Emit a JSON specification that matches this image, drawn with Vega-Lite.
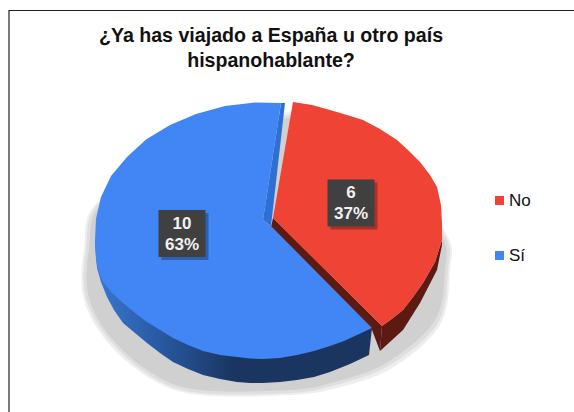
{
  "$schema": "https://vega.github.io/schema/vega-lite/v6.json",
  "width": 574,
  "height": 412,
  "autosize": "none",
  "padding": 0,
  "background": "white",
  "title": {
    "text": ["¿Ya has viajado a España u otro país", "hispanohablante?"],
    "font": "Liberation Sans",
    "fontSize": 19.6,
    "fontWeight": "bold",
    "color": "#111111",
    "lineHeight": 25,
    "anchor": "middle",
    "frame": "group",
    "dx": -16,
    "dy": 76
  },
  "config": {"view": {"stroke": null}},
  "datasets": {
    "shadowOuter": [
      {"i":0,"u":18,"v":118},{"i":1,"u":70,"v":95},{"i":2,"u":130,"v":60},{"i":3,"u":177,"v":-5},{"i":4,"u":180,"v":-40},{"i":5,"u":170,"v":-95},{"i":6,"u":122,"v":-138},{"i":7,"u":67,"v":-158},{"i":8,"u":20,"v":-165},{"i":9,"u":-70,"v":-165},{"i":10,"u":-117,"v":-150},{"i":11,"u":-160,"v":-115},{"i":12,"u":-186,"v":-70},{"i":13,"u":-186,"v":-20},{"i":14,"u":-170,"v":30},{"i":15,"u":-70,"v":80}
    ],
    "shadowMiddle": [
      {"i":0,"u":18,"v":115},{"i":1,"u":70,"v":92},{"i":2,"u":130,"v":57},{"i":3,"u":175,"v":-5},{"i":4,"u":178,"v":-40},{"i":5,"u":168,"v":-93},{"i":6,"u":120,"v":-135},{"i":7,"u":66,"v":-155},{"i":8,"u":20,"v":-163},{"i":9,"u":-70,"v":-163},{"i":10,"u":-116,"v":-148},{"i":11,"u":-158,"v":-113},{"i":12,"u":-184,"v":-69},{"i":13,"u":-184,"v":-20},{"i":14,"u":-168,"v":30},{"i":15,"u":-70,"v":80}
    ],
    "shadowInner": [
      {"i":0,"u":18,"v":112},{"i":1,"u":70,"v":90},{"i":2,"u":130,"v":55},{"i":3,"u":172,"v":-5},{"i":4,"u":175,"v":-40},{"i":5,"u":165,"v":-90},{"i":6,"u":118,"v":-132},{"i":7,"u":65,"v":-152},{"i":8,"u":20,"v":-160},{"i":9,"u":-70,"v":-160},{"i":10,"u":-115,"v":-145},{"i":11,"u":-157,"v":-110},{"i":12,"u":-181,"v":-68},{"i":13,"u":-181,"v":-20},{"i":14,"u":-165,"v":30},{"i":15,"u":-70,"v":80}
    ],
    "blueWall": [
      {"i":0,"u":-175,"v":-10},{"i":1,"u":0,"v":-60},{"i":2,"u":102,"v":-98},{"i":3,"u":99,"v":-125},{"i":4,"u":80,"v":-134},{"i":5,"u":60,"v":-142},{"i":6,"u":44,"v":-147},{"i":7,"u":27,"v":-150},{"i":8,"u":10,"v":-152},{"i":9,"u":-7,"v":-153},{"i":10,"u":-20,"v":-153},{"i":11,"u":-33,"v":-152},{"i":12,"u":-50,"v":-149},{"i":13,"u":-67,"v":-145},{"i":14,"u":-82,"v":-139},{"i":15,"u":-97,"v":-132},{"i":16,"u":-110,"v":-123},{"i":17,"u":-123,"v":-113},{"i":18,"u":-135,"v":-103},{"i":19,"u":-147,"v":-93},{"i":20,"u":-156,"v":-80},{"i":21,"u":-163,"v":-67},{"i":22,"u":-169,"v":-52},{"i":23,"u":-173,"v":-38},{"i":24,"u":-175,"v":-15}
    ],
    "redWalls": [
      {"part":"outer","i":0,"u":172,"v":-5},{"part":"outer","i":1,"u":172,"v":-10},{"part":"outer","i":2,"u":165,"v":-32},{"part":"outer","i":3,"u":153,"v":-53},{"part":"outer","i":4,"u":143,"v":-67},{"part":"outer","i":5,"u":133,"v":-80},{"part":"outer","i":6,"u":123,"v":-88},{"part":"outer","i":7,"u":112,"v":-96},{"part":"outer","i":8,"u":110,"v":-121},{"part":"outer","i":9,"u":133,"v":-100},{"part":"outer","i":10,"u":150,"v":-73},{"part":"outer","i":11,"u":167,"v":-40},{"part":"outer","i":12,"u":172,"v":-15},
      {"part":"inner","i":0,"u":3,"v":12},{"part":"inner","i":1,"u":112,"v":-96},{"part":"inner","i":2,"u":110,"v":-121},{"part":"inner","i":3,"u":102,"v":-100},{"part":"inner","i":4,"u":1,"v":3}
    ],
    "blueCut": [
      {"i":0,"u":11,"v":127},{"i":1,"u":15,"v":127},{"i":2,"u":1,"v":4},{"i":3,"u":-7,"v":10}
    ],
    "faces": [
      {"answer":"Sí","i":0,"u":11,"v":127},{"answer":"Sí","i":1,"u":-15,"v":127.5},{"answer":"Sí","i":2,"u":-45,"v":124},{"answer":"Sí","i":3,"u":-74,"v":116},{"answer":"Sí","i":4,"u":-100,"v":105},{"answer":"Sí","i":5,"u":-124,"v":90.5},{"answer":"Sí","i":6,"u":-143,"v":73},{"answer":"Sí","i":7,"u":-159,"v":54},{"answer":"Sí","i":8,"u":-169,"v":33},{"answer":"Sí","i":9,"u":-174,"v":11},{"answer":"Sí","i":10,"u":-175,"v":-10},{"answer":"Sí","i":11,"u":-174,"v":-30},{"answer":"Sí","i":12,"u":-171,"v":-42},{"answer":"Sí","i":13,"u":-167,"v":-52},{"answer":"Sí","i":14,"u":-158,"v":-63},{"answer":"Sí","i":15,"u":-147,"v":-73},{"answer":"Sí","i":16,"u":-135,"v":-83},{"answer":"Sí","i":17,"u":-123,"v":-92},{"answer":"Sí","i":18,"u":-110,"v":-100},{"answer":"Sí","i":19,"u":-97,"v":-108},{"answer":"Sí","i":20,"u":-82,"v":-115},{"answer":"Sí","i":21,"u":-67,"v":-121},{"answer":"Sí","i":22,"u":-50,"v":-125},{"answer":"Sí","i":23,"u":-33,"v":-127},{"answer":"Sí","i":24,"u":-20,"v":-128.5},{"answer":"Sí","i":25,"u":-7,"v":-129},{"answer":"Sí","i":26,"u":10,"v":-128},{"answer":"Sí","i":27,"u":27,"v":-125},{"answer":"Sí","i":28,"u":44,"v":-121},{"answer":"Sí","i":29,"u":60,"v":-116},{"answer":"Sí","i":30,"u":74,"v":-111},{"answer":"Sí","i":31,"u":87,"v":-105},{"answer":"Sí","i":32,"u":102,"v":-98},{"answer":"Sí","i":33,"u":1,"v":4},{"answer":"Sí","i":34,"u":-7,"v":10},
      {"answer":"No","i":0,"u":23,"v":128},{"answer":"No","i":1,"u":42,"v":125},{"answer":"No","i":2,"u":60,"v":120},{"answer":"No","i":3,"u":77,"v":115},{"answer":"No","i":4,"u":93,"v":110},{"answer":"No","i":5,"u":110,"v":101},{"answer":"No","i":6,"u":127,"v":90},{"answer":"No","i":7,"u":139,"v":79},{"answer":"No","i":8,"u":150,"v":68},{"answer":"No","i":9,"u":160,"v":55},{"answer":"No","i":10,"u":167,"v":43},{"answer":"No","i":11,"u":171,"v":25},{"answer":"No","i":12,"u":172,"v":7},{"answer":"No","i":13,"u":172,"v":-10},{"answer":"No","i":14,"u":165,"v":-32},{"answer":"No","i":15,"u":153,"v":-53},{"answer":"No","i":16,"u":143,"v":-67},{"answer":"No","i":17,"u":133,"v":-80},{"answer":"No","i":18,"u":123,"v":-88},{"answer":"No","i":19,"u":112,"v":-96},{"answer":"No","i":20,"u":3,"v":12}
    ],
    "labels": [
      {"answer":"No","count":6,"share":"37%","lines":["6","37%"],"u":81,"v":27},
      {"answer":"Sí","count":10,"share":"63%","lines":["10","63%"],"u":-88,"v":-3.5}
    ],
    "frame": [
      {"i":0,"u":-261,"v":-182},{"i":1,"u":-261,"v":219.5},{"i":2,"u":304,"v":219.5}
    ]
  },
  "encoding": {
    "x": {"field":"u","type":"quantitative","axis":null,"scale":{"domain":[-270,304],"nice":false,"zero":false}},
    "y": {"field":"v","type":"quantitative","axis":null,"scale":{"domain":[-182,230],"nice":false,"zero":false}}
  },
  "layer": [
    {
      "data": {"name":"shadowOuter"},
      "mark": {"type":"line","filled":true,"fill":"#eeeeee","stroke":null,"interpolate":"cardinal-closed"},
      "encoding": {"order":{"field":"i"}}
    },
    {
      "data": {"name":"shadowMiddle"},
      "mark": {"type":"line","filled":true,"fill":"#dfdfdf","stroke":null,"interpolate":"cardinal-closed"},
      "encoding": {"order":{"field":"i"}}
    },
    {
      "data": {"name":"shadowInner"},
      "mark": {"type":"line","filled":true,"fill":"#d0d0d0","stroke":null,"interpolate":"cardinal-closed"},
      "encoding": {"order":{"field":"i"}}
    },
    {
      "data": {"name":"blueWall"},
      "mark": {
        "type":"line","filled":true,"stroke":null,
        "fill": {"gradient":"linear","x1":0,"x2":1,"y1":0,"y2":0,
          "stops":[{"offset":0,"color":"#3a78d0"},{"offset":0.25,"color":"#27579f"},{"offset":0.5,"color":"#1a3560"},{"offset":1,"color":"#1a3560"}]}
      },
      "encoding": {"order":{"field":"i"}}
    },
    {
      "data": {"name":"redWalls"},
      "mark": {"type":"line","filled":true,"fill":"#5c1a12","stroke":null},
      "encoding": {"order":{"field":"i"},"detail":{"field":"part"}}
    },
    {
      "data": {"name":"blueCut"},
      "mark": {"type":"line","filled":true,"fill":"#2e6fd6","stroke":null},
      "encoding": {"order":{"field":"i"}}
    },
    {
      "data": {"name":"faces"},
      "mark": {"type":"line","filled":true,"stroke":null},
      "encoding": {
        "order":{"field":"i"},
        "fill": {
          "field":"answer","type":"nominal",
          "scale":{"domain":["No","Sí"],"range":["#ee4335","#4285f4"]},
          "legend":{
            "title":null,"orient":"none","legendX":491,"legendY":192,
            "symbolType":"square","symbolSize":81,"symbolStrokeWidth":0,
            "labelFont":"Liberation Sans","labelFontSize":17,"labelColor":"#111111",
            "labelOffset":1,"rowPadding":37,"padding":0
          }
        }
      }
    },
    {
      "data": {"name":"labels"},
      "mark": {"type":"point","shape":"square","size":2209,"filled":true,"color":"#000000","opacity":0.28,"xOffset":3,"yOffset":3}
    },
    {
      "data": {"name":"labels"},
      "mark": {"type":"point","shape":"square","size":2209,"filled":true,"color":"#404040","opacity":1}
    },
    {
      "data": {"name":"labels"},
      "mark": {"type":"text","font":"Liberation Sans","fontSize":17,"fontWeight":"bold","color":"#f2f2f2","lineHeight":21,"align":"center","baseline":"middle","dy":-10},
      "encoding": {"text":{"field":"lines"}}
    },
    {
      "data": {"name":"frame"},
      "mark": {"type":"line","stroke":"#222222","strokeWidth":1.2},
      "encoding": {"order":{"field":"i"}}
    }
  ]
}
